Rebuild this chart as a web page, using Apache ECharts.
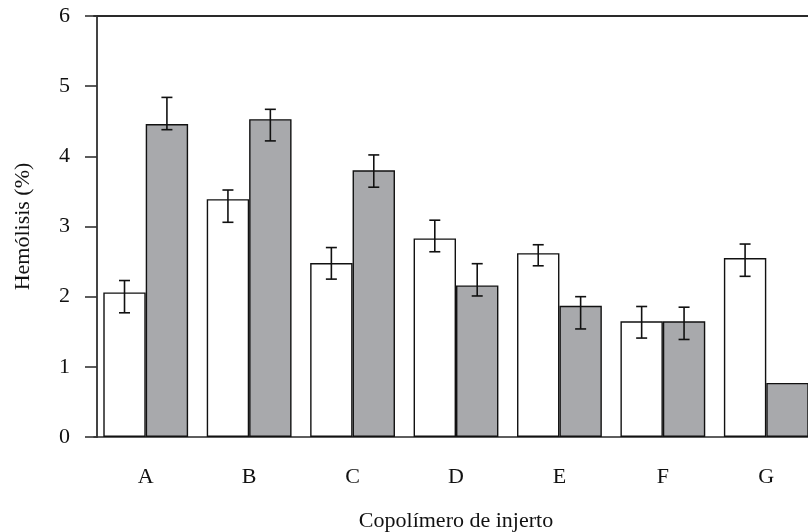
<!DOCTYPE html>
<html>
<head>
<meta charset="utf-8">
<script src="https://cdn.jsdelivr.net/npm/echarts@6/dist/echarts.min.js"></script>
<style>
  html, body { margin: 0; padding: 0; background: #fff; }
  #chart { width: 808px; height: 532px; }
</style>
</head>
<body>
<div id="chart"></div>
<script>
// Hemolysis by graft copolymer: two conditions per copolymer
const categories = ['A', 'B', 'C', 'D', 'E', 'F', 'G'];
const whiteValues = [2.06, 3.39, 2.48, 2.83, 2.62, 1.65, 2.55];
const grayValues  = [4.46, 4.53, 3.80, 2.16, 1.87, 1.65, 0.77];
// error bar ends (low, high); null = no error bar
const whiteErrLow  = [1.77, 3.06, 2.25, 2.64, 2.44, 1.41, 2.29];
const whiteErrHigh = [2.23, 3.52, 2.70, 3.09, 2.74, 1.86, 2.75];
const grayErrLow   = [4.38, 4.22, 3.56, 2.01, 1.54, 1.39, null];
const grayErrHigh  = [4.84, 4.67, 4.02, 2.47, 2.00, 1.85, null];
const yTicks = [0, 1, 2, 3, 4, 5, 6];

const FONT = '"Liberation Serif", "DejaVu Serif", serif';
const chart = echarts.init(document.getElementById('chart'), null, { renderer: 'canvas' });

// each bar is 41% of the category band, placed side by side
const BAR_FRACTION = 0.41;

function errorData(lows, highs) {
  return categories.map((c, i) => [i, lows[i], highs[i]]);
}

function errorRenderer(side) {
  return function (params, api) {
    const low = api.value(1);
    const high = api.value(2);
    if (low == null || high == null || isNaN(low) || isNaN(high)) return null;
    const idx = api.value(0);
    const band = api.size([1, 0])[0];
    const shift = side * band * BAR_FRACTION / 2;
    const pHigh = api.coord([idx, high]);
    const pLow = api.coord([idx, low]);
    const x = pHigh[0] + shift;
    const cap = 5.5;
    const style = { stroke: '#111', lineWidth: 1.6 };
    return {
      type: 'group',
      children: [
        { type: 'line', shape: { x1: x, y1: pHigh[1], x2: x, y2: pLow[1] }, style },
        { type: 'line', shape: { x1: x - cap, y1: pHigh[1], x2: x + cap, y2: pHigh[1] }, style },
        { type: 'line', shape: { x1: x - cap, y1: pLow[1], x2: x + cap, y2: pLow[1] }, style }
      ]
    };
  };
}

const option = {
  backgroundColor: '#ffffff',
  animation: false,
  // plot area runs past the right edge of the canvas; the last bar is cut there
  grid: {
    left: 94, width: 724, top: 16, height: 421,
    containLabel: false, outerBoundsMode: 'none'
  },
  xAxis: [
    {
      type: 'category',
      data: categories,
      position: 'bottom',
      axisLine: { show: true, lineStyle: { color: '#2a2a2a', width: 1.6 } },
      axisTick: { show: false },
      axisLabel: { color: '#111', fontFamily: FONT, fontSize: 22, margin: 29 },
      name: 'Copolímero de injerto',
      nameLocation: 'middle',
      nameGap: 73,
      nameTextStyle: { color: '#111', fontFamily: FONT, fontSize: 22 },
      splitLine: { show: false }
    },
    {
      type: 'category',
      data: categories,
      position: 'top',
      axisLine: { show: true, lineStyle: { color: '#2a2a2a', width: 2 } },
      axisTick: { show: false },
      axisLabel: { show: false },
      splitLine: { show: false }
    }
  ],
  yAxis: {
    type: 'value',
    min: 0,
    max: 6,
    interval: 1,
    offset: -3,
    axisLine: { show: true, lineStyle: { color: '#444', width: 2 } },
    axisTick: { show: true, inside: false, length: 12, lineStyle: { color: '#333', width: 1.6 } },
    axisLabel: {
      color: '#111', fontFamily: FONT, fontSize: 22, margin: 27,
      formatter: v => (yTicks.indexOf(v) >= 0 ? String(v) : '')
    },
    splitLine: { show: false },
    name: 'Hemólisis (%)',
    nameLocation: 'middle',
    nameGap: 63,
    nameTextStyle: { color: '#111', fontFamily: FONT, fontSize: 22 }
  },
  series: [
    {
      type: 'bar',
      data: whiteValues,
      barGap: '0%',
      barCategoryGap: '18%',
      itemStyle: { color: '#ffffff', borderColor: '#111', borderWidth: 1.4 },
      z: 2
    },
    {
      type: 'bar',
      data: grayValues,
      barGap: '0%',
      barCategoryGap: '18%',
      itemStyle: { color: '#a8a9ac', borderColor: '#111', borderWidth: 1.4 },
      z: 2
    },
    {
      type: 'custom',
      renderItem: errorRenderer(-1),
      data: errorData(whiteErrLow, whiteErrHigh),
      encode: { x: 0, y: [1, 2] },
      z: 5
    },
    {
      type: 'custom',
      renderItem: errorRenderer(1),
      data: errorData(grayErrLow, grayErrHigh),
      encode: { x: 0, y: [1, 2] },
      z: 5
    }
  ]
};

chart.setOption(option);
</script>
</body>
</html>
